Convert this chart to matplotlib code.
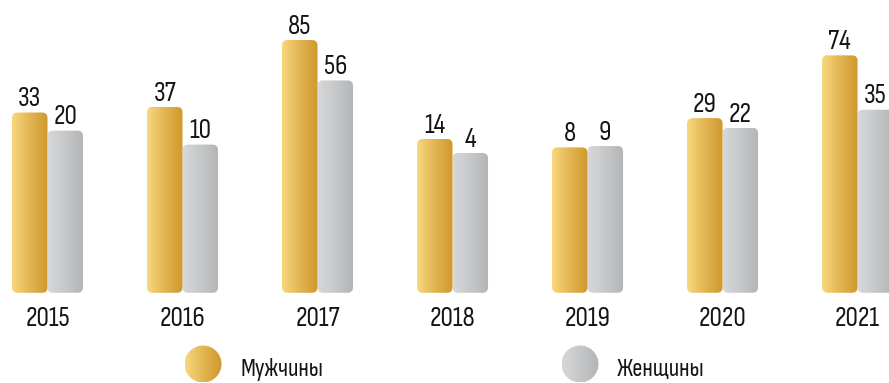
import numpy as np
import matplotlib.pyplot as plt
from matplotlib.patches import FancyBboxPatch, Circle
from matplotlib.colors import LinearSegmentedColormap

# данные по годам
years = ['2015', '2016', '2017', '2018', '2019', '2020', '2021']
men = [33, 37, 85, 14, 8, 29, 74]
women = [20, 10, 56, 4, 9, 22, 35]

plt.rcParams['font.family'] = ['Sofia Sans Condensed', 'DejaVu Sans']

W, H = 889, 383
fig = plt.figure(figsize=(W / 100, H / 100), dpi=100)
ax = fig.add_axes([0, 0, 1, 1])
xmin, xmax = -0.352, 6.233
ymin, ymax = -161, 113.7
base = 96.3      # столбики начинаются ниже нуля
width = 0.263

gold = LinearSegmentedColormap.from_list('gold', ['#F8D87E', '#E2B553', '#CF982B'])
silver = LinearSegmentedColormap.from_list('silver', ['#D7D8DA', '#C6C7C9', '#B3B4B6'])
grad = np.linspace(0, 1, 256).reshape(1, -1)

px_x = W / (xmax - xmin)
px_y = H / (ymax - ymin)
radius = 5.5 / px_x


def gradient_bars(bars, cmap):
    for b in bars:
        x0, y0, w, h = b.get_x(), b.get_y(), b.get_width(), b.get_height()
        shape = FancyBboxPatch((x0, y0), w, h,
                               boxstyle=f'round,pad=0,rounding_size={radius}',
                               mutation_aspect=px_x / px_y,
                               fc='none', ec='none')
        ax.add_patch(shape)
        im = ax.imshow(grad, cmap=cmap, extent=(x0, x0 + w, y0, y0 + h),
                       aspect='auto', zorder=2)
        im.set_clip_path(shape)
        b.set_visible(False)


x = np.arange(len(years))
men_bars = ax.bar(x - width / 2, np.array(men) + base, width, bottom=-base)
women_bars = ax.bar(x + width / 2, np.array(women) + base, width, bottom=-base)
gradient_bars(men_bars, gold)
gradient_bars(women_bars, silver)

for xi, v in zip(x - width / 2, men):
    ax.annotate(str(v), (xi, v), xytext=(0, 4.5), textcoords='offset points',
                ha='center', va='baseline', fontsize=20, color='#151515')
for xi, v in zip(x + width / 2, women):
    ax.annotate(str(v), (xi, v), xytext=(0, 4.5), textcoords='offset points',
                ha='center', va='baseline', fontsize=20, color='#151515')

for xi, y in zip(x, years):
    ax.text(xi, (H - 326) / H, y, transform=ax.get_xaxis_transform(),
            ha='center', va='baseline', fontsize=20, color='#151515')

ax.set_xlim(xmin, xmax)
ax.set_ylim(ymin, ymax)
ax.axis('off')

# легенда
lax = fig.add_axes([0, 0, 1, 1])
lax.set_xlim(0, W)
lax.set_ylim(H, 0)
lax.axis('off')
for cx, cmap, label in [(203, gold, 'Мужчины'), (580, silver, 'Женщины')]:
    circ = Circle((cx, 364), 18.5, fc='none', ec='none')
    lax.add_patch(circ)
    im = lax.imshow(grad, cmap=cmap, extent=(cx - 18.5, cx + 18.5, 382.5, 345.5),
                    aspect='auto')
    im.set_clip_path(circ)
    lax.text(cx + 37, 376, label, ha='left', va='baseline',
             fontsize=18, color='#151515')
lax.set_xlim(0, W)
lax.set_ylim(H, 0)

fig.savefig('out.png', dpi=100)
